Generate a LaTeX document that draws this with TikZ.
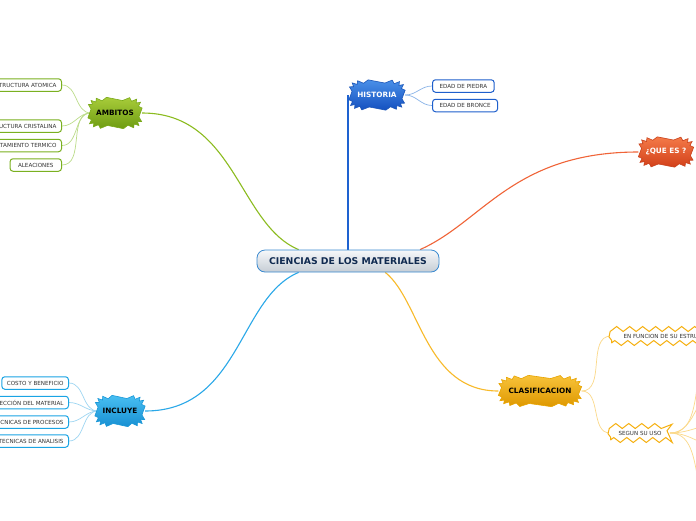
\documentclass[tikz,border=0pt]{standalone}
\usepackage{fontspec}
\setmainfont{DejaVu Sans}
\usetikzlibrary{decorations.pathmorphing,backgrounds}
\definecolor{histtop}{HTML}{4A90E8}\definecolor{histbot}{HTML}{1450C0}\definecolor{histline}{HTML}{1A55B8}
\definecolor{histconn}{HTML}{1E62D0}\definecolor{histleafc}{HTML}{8AB4E8}\definecolor{histbox}{HTML}{1E5FCC}
\definecolor{quetop}{HTML}{F47A48}\definecolor{quebot}{HTML}{D2401A}\definecolor{queline}{HTML}{C8401A}\definecolor{queconn}{HTML}{F06438}
\definecolor{ambtop}{HTML}{A8CC3A}\definecolor{ambbot}{HTML}{6E9C12}\definecolor{ambline}{HTML}{7AAA1A}
\definecolor{ambconn}{HTML}{8CBC20}\definecolor{ambleafc}{HTML}{BCDC8A}\definecolor{ambbox}{HTML}{7AB020}
\definecolor{inctop}{HTML}{48BEF2}\definecolor{incbot}{HTML}{1890D2}\definecolor{incline}{HTML}{1A98D8}
\definecolor{incconn}{HTML}{2AA8E8}\definecolor{incleafc}{HTML}{9ED6F2}\definecolor{incbox}{HTML}{1AA4E4}
\definecolor{clastop}{HTML}{F8C33A}\definecolor{clasbot}{HTML}{DE9800}\definecolor{clasline}{HTML}{E8A400}
\definecolor{clasconn}{HTML}{F8BA2A}\definecolor{clasleafc}{HTML}{FBD98A}\definecolor{clasbox}{HTML}{F6B010}
\definecolor{ctop}{HTML}{F6F8FA}\definecolor{cbot}{HTML}{C6CDD5}\definecolor{cline}{HTML}{3A8AD0}\definecolor{ctext}{HTML}{102A50}
\definecolor{leaftext}{HTML}{333333}
% burst: x, y, a, b, N, style
\newcommand\burstpath[6]{%
  \pgfmathtruncatemacro\burstlast{#5-1}%
  \pgfmathsetmacro\burststep{360/#5}%
  \path[#6, shift={(#1,#2)}] plot[samples at={0,...,\burstlast}, variable=\k]
    ({(#3+3.2*mod(\k,2))*cos(\k*\burststep+\burststep/2)/pow(abs(cos(\k*\burststep+\burststep/2)),0.5)},
     {(#4+3.2*mod(\k,2))*sin(\k*\burststep+\burststep/2)/pow(abs(sin(\k*\burststep+\burststep/2)),0.5)}) -- cycle;}
% starnode: name, x, y, a, b, N, style, textstyle, text
\newcommand\starnode[9]{%
  \burstpath{#2}{#3}{#4}{#5}{#6}{#7}%
  \node[startext, #8, minimum width={2*#4+6pt}, minimum height={2*#5+6pt}] (#1) at (#2,#3) {#9};}
\begin{document}
\begin{tikzpicture}[x=1pt,y=-1pt,
  startext/.style={inner sep=0pt, font=\fontsize{7.3}{8}\selectfont\bfseries},
  histst/.style={top color=histtop, bottom color=histbot, draw=histline, line width=0.6pt},
  quest/.style={top color=quetop, bottom color=quebot, draw=queline, line width=0.6pt},
  ambst/.style={top color=ambtop, bottom color=ambbot, draw=ambline, line width=0.6pt},
  incst/.style={top color=inctop, bottom color=incbot, draw=incline, line width=0.6pt},
  classt/.style={top color=clastop, bottom color=clasbot, draw=clasline, line width=0.6pt},
  leaf/.style={draw, fill=white, rounded corners=3pt, line width=1pt, minimum height=12.5pt,
    inner xsep=7pt, inner ysep=0pt, font=\fontsize{5.6}{6.5}\selectfont, text=leaftext},
  zleaf/.style={draw=clasbox, fill=white, line width=1pt, minimum height=14pt, inner ysep=0pt,
    decorate, decoration={zigzag, segment length=13pt, amplitude=2.5pt},
    font=\fontsize{5.6}{6.5}\selectfont, text=leaftext},
  mainconn/.style={line width=1.1pt},
  leafconn/.style={line width=0.7pt}
]
\useasboundingbox (0,0) rectangle (696,520);

% central
\node[draw=cline, line width=0.8pt, top color=ctop, bottom color=cbot, rounded corners=8pt,
  minimum width=182pt, minimum height=22pt, inner sep=0pt, text=ctext,
  font=\fontsize{9.3}{10}\selectfont\bfseries] (central) at (348,261) {CIENCIAS DE LOS MATERIALES};

% star nodes
\starnode{hist}{377}{95}{25}{12}{32}{histst}{text=white}{HISTORIA}
\starnode{que}{666}{152}{24.5}{12}{32}{quest}{text=white}{¿QUE ES ?}
\starnode{amb}{115}{113}{24}{12.5}{32}{ambst}{text=black}{AMBITOS}
\starnode{inc}{120}{411}{22}{12.5}{32}{incst}{text=black}{INCLUYE}
\starnode{clas}{540}{391}{38.5}{12.5}{40}{classt}{text=black}{CLASIFICACION}

% leaves
\node[leaf, draw=histbox, anchor=west] (h1) at (432,86) {EDAD DE PIEDRA};
\node[leaf, draw=histbox, anchor=west] (h2) at (432,105.5) {EDAD DE BRONCE};

\node[leaf, draw=ambbox, anchor=east, inner xsep=5pt] (a1) at (62,85) {ESTRUCTURA ATOMICA};
\node[leaf, draw=ambbox, anchor=east, inner xsep=5pt] (a2) at (62,126) {ESTRUCTURA CRISTALINA};
\node[leaf, draw=ambbox, anchor=east, inner xsep=5pt] (a3) at (62,145.5) {COMPORTAMIENTO TERMICO};
\node[leaf, draw=ambbox, anchor=east, inner xsep=8pt] (a4) at (62,165) {ALEACIONES};

\node[leaf, draw=incbox, anchor=east, inner xsep=5pt] (i1) at (69,383) {COSTO Y BENEFICIO};
\node[leaf, draw=incbox, anchor=east, inner xsep=5pt] (i2) at (69,402.5) {SELECCIÓN DEL MATERIAL};
\node[leaf, draw=incbox, anchor=east, inner xsep=5pt] (i3) at (69,422) {TECNICAS DE PROCESOS};
\node[leaf, draw=incbox, anchor=east, inner xsep=5pt] (i4) at (69,441) {TECNICAS DE ANALISIS};

\node[zleaf, anchor=west, inner xsep=12pt] (z1) at (611,336) {EN FUNCION DE SU ESTRUCTURA};
\node[zleaf, inner xsep=8pt] (z2) at (640,433) {SEGUN SU USO};

\coordinate (s1) at (724,343);
\coordinate (s2) at (724,384);
\coordinate (s3) at (724,423);
\coordinate (s4) at (724,448);
\coordinate (s5) at (724,515);

\begin{pgfonlayer}{background}
\fill[white] (0,0) rectangle (696,520);
\draw[mainconn, draw=ambconn] (central.167) .. controls +(-60,-25) and +(93,0) .. (amb.east);
\draw[mainconn, draw=queconn] (central.9) .. controls +(63,-28) and +(-125,0) .. (que.west);
\draw[mainconn, draw=histconn] (central.north) -- (central.north |- hist.west);
\draw[mainconn, draw=incconn] (central.193) .. controls +(-60,25) and +(95,0) .. (inc.east);
\draw[mainconn, draw=clasconn] (central.-17) .. controls +(35,28) and +(-73,0) .. (clas.west);

\foreach \t in {h1,h2} \draw[leafconn, draw=histleafc] (hist.east) to[out=0,in=180] (\t.west);
\foreach \t in {a1,a2,a3,a4} \draw[leafconn, draw=ambleafc] ([xshift=3pt]amb.west) to[out=180,in=0] (\t.east);
\foreach \t in {i1,i2,i3,i4} \draw[leafconn, draw=incleafc] ([xshift=3pt]inc.west) to[out=180,in=0] (\t.east);
\foreach \t in {z1,z2} \draw[leafconn, draw=clasleafc] (clas.east) to[out=0,in=180] (\t.west);
\foreach \t in {s1,s2,s3,s4,s5} \draw[leafconn, draw=clasleafc] (z2.east) to[out=0,in=180] (\t);
\end{pgfonlayer}
\end{tikzpicture}
\end{document}
